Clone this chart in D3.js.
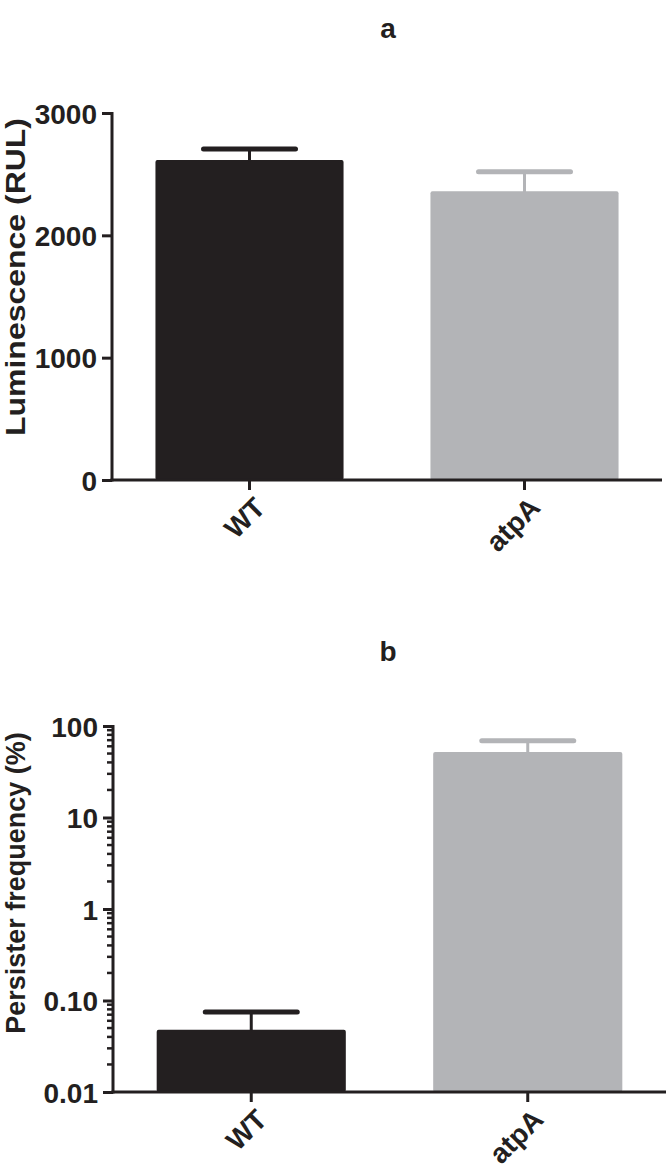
<!DOCTYPE html>
<html>
<head>
<meta charset="utf-8">
<script src="https://cdn.jsdelivr.net/npm/d3@7"></script>
<style>
  body { margin: 0; background: #fff; }
  svg text { font-family: "Liberation Sans", Arial, sans-serif; font-weight: bold; fill: #231f20; }
</style>
</head>
<body>
<svg class="chart"></svg>
<script>
const size = { w: 666, h: 1172 };

// data
const strains = ["WT", "atpA"];
const lumMean = [2615, 2360];
const lumUpper = [2705, 2520];
const persMean = [0.048, 52];
const persUpper = [0.075, 69];
const lumTicks = [0, 1000, 2000, 3000];
const persTicks = [0.01, 0.1, 1, 10, 100];
const persTickLabels = ["0.01", "0.10", "1", "10", "100"];
const barColors = ["#231f20", "#b3b4b7"];

const ink = "#231f20";
const svg = d3.select("svg.chart").attr("width", size.w).attr("height", size.h);

// panel boxes
const panelA = { x0: 112, x1: 662, y0: 113, y1: 480 };
const panelB = { x0: 113, x1: 666, y0: 726, y1: 1092 };

function drawPanel(p, yScale, means, uppers, opts) {
  const g = svg.append("g");

  const x = d3.scaleBand()
    .domain(strains)
    .range([p.x0, p.x1])
    .paddingInner(0.316)
    .paddingOuter(0.158);

  // bars
  g.selectAll("rect.bar")
    .data(strains)
    .join("rect")
    .attr("class", "bar")
    .attr("x", d => x(d))
    .attr("width", x.bandwidth())
    .attr("y", (d, i) => yScale(means[i]))
    .attr("height", (d, i) => p.y1 - yScale(means[i]))
    .attr("rx", 2)
    .attr("fill", (d, i) => barColors[i]);

  // error bars (upper only)
  const cx = d => x(d) + x.bandwidth() / 2;
  g.selectAll("line.stem")
    .data(strains)
    .join("line")
    .attr("x1", cx).attr("x2", cx)
    .attr("y1", (d, i) => yScale(means[i]) + 1)
    .attr("y2", (d, i) => yScale(uppers[i]))
    .attr("stroke", (d, i) => barColors[i])
    .attr("stroke-width", 3);
  g.selectAll("line.cap")
    .data(strains)
    .join("line")
    .attr("x1", d => cx(d) - 46).attr("x2", d => cx(d) + 46)
    .attr("y1", (d, i) => yScale(uppers[i]))
    .attr("y2", (d, i) => yScale(uppers[i]))
    .attr("stroke", (d, i) => barColors[i])
    .attr("stroke-width", 5)
    .attr("stroke-linecap", "round");

  // y axis
  const yAxis = d3.axisLeft(yScale)
    .tickValues(opts.ticks)
    .tickFormat(opts.fmt)
    .tickSizeInner(10)
    .tickSizeOuter(0)
    .tickPadding(5);
  const yg = g.append("g").attr("transform", `translate(${p.x0},0)`).call(yAxis);
  yg.select(".domain").attr("stroke", ink).attr("stroke-width", 3).attr("d", `M0,${p.y0 - 1}V${p.y1 + 1.5}`);
  yg.selectAll(".tick line").attr("stroke", ink).attr("stroke-width", 3);
  yg.selectAll(".tick text").style("font-size", "28px").attr("dy", "0.36em");

  if (opts.logMinor) {
    const minor = yScale.ticks().filter(v => !opts.ticks.includes(v));
    yg.selectAll("line.minor")
      .data(minor)
      .join("line")
      .attr("class", "minor")
      .attr("x1", -6).attr("x2", 0)
      .attr("y1", d => yScale(d)).attr("y2", d => yScale(d))
      .attr("stroke", ink)
      .attr("stroke-width", 2.5);
  }

  // x axis
  const xAxis = d3.axisBottom(x).tickSizeInner(10).tickSizeOuter(0).tickPadding(6);
  const xg = g.append("g").attr("transform", `translate(0,${p.y1})`).call(xAxis);
  xg.select(".domain").attr("stroke", ink).attr("stroke-width", 3).attr("d", `M${p.x0 - 1.5},0H${p.x1}`);
  xg.selectAll(".tick line").attr("stroke", ink).attr("stroke-width", 3);
  xg.selectAll(".tick text")
    .style("font-size", "28px")
    .attr("text-anchor", "end")
    .attr("dy", null)
    .attr("transform", "translate(6,18) rotate(-45)");

  // y label
  const lab = g.append("text")
    .attr("transform", `translate(${opts.labelX},${opts.labelY}) rotate(-90)`)
    .attr("text-anchor", "middle")
    .style("font-size", opts.labelSize)
    .text(opts.label);
  if (opts.labelLen) lab.attr("textLength", opts.labelLen).attr("lengthAdjust", "spacingAndGlyphs");

  // panel title
  g.append("text")
    .attr("x", 388)
    .attr("y", opts.titleY)
    .attr("text-anchor", "middle")
    .style("font-size", "28px")
    .text(opts.title);
}

const yLum = d3.scaleLinear().domain([0, 3000]).range([panelA.y1, panelA.y0]);
const yPers = d3.scaleLog().domain([0.01, 100]).range([panelB.y1, panelB.y0]);

drawPanel(panelA, yLum, lumMean, lumUpper, {
  title: "a", titleY: 38, label: "Luminescence (RUL)", labelX: 25, labelY: 277, labelSize: "27px", labelLen: 318,
  ticks: lumTicks, fmt: d3.format("d"), logMinor: false
});
drawPanel(panelB, yPers, persMean, persUpper, {
  title: "b", titleY: 661, label: "Persister frequency (%)", labelX: 25, labelY: 883, labelSize: "27px",
  ticks: persTicks, fmt: d => persTickLabels[persTicks.indexOf(d)], logMinor: true
});
</script>
</body>
</html>
